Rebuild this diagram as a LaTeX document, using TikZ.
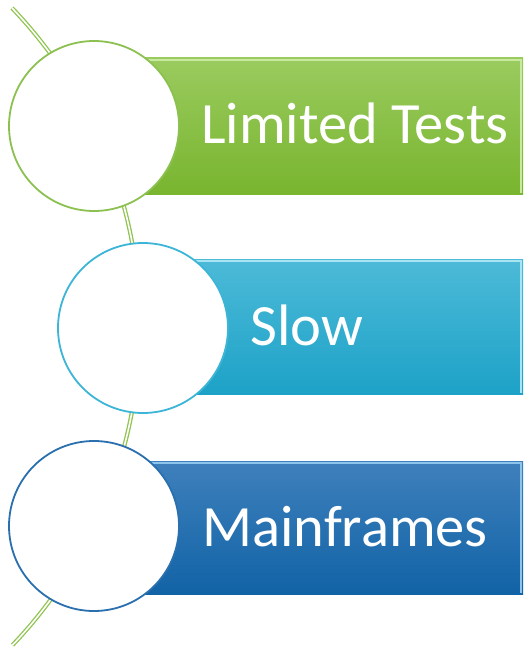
\documentclass[tikz,border=0pt]{standalone}
\usepackage{fontspec}
\setmainfont{Carlito}
\definecolor{gA}{HTML}{8CC152}
\definecolor{gTop}{HTML}{9ACB5F}
\definecolor{gBot}{HTML}{79B52F}
\definecolor{gHi}{HTML}{C9E8A0}
\definecolor{cA}{HTML}{3DB5D6}
\definecolor{cTop}{HTML}{4DBAD8}
\definecolor{cBot}{HTML}{1DA2C7}
\definecolor{cHi}{HTML}{A8E4F2}
\definecolor{bA}{HTML}{2A6FAE}
\definecolor{bTop}{HTML}{3F80BC}
\definecolor{bBot}{HTML}{1163A6}
\definecolor{bHi}{HTML}{8CC4EC}
\definecolor{lineG}{HTML}{8FC450}
\begin{document}
\begin{tikzpicture}[x=1pt,y=-1pt,
  ring/.style={circle,fill=white,draw,line width=1.8pt,minimum size=170pt,inner sep=0pt},
  label/.style={anchor=base west,text=white,font=\fontsize{58.5}{60}\selectfont,inner sep=0pt},
  spine/.style={draw=lineG,line width=1.3pt,double=white,double distance=1.6pt}]
\useasboundingbox (0,0) rectangle (524,647);
% spine arc
\coordinate (s0) at (12,8);
\draw[spine] (s0) arc[start angle=-43.7,end angle=43.6,radius=461.5];
% bars
\shade[top color=gTop,bottom color=gBot] (94,58) rectangle (523,194);
\draw[gHi,line width=1.2pt] (94,60) -- (521,60) -- (521,193);
\shade[top color=cTop,bottom color=cBot] (143,259) rectangle (523,394);
\draw[cHi,line width=1.2pt] (143,261) -- (521,261) -- (521,393);
\shade[top color=bTop,bottom color=bBot] (94,461) rectangle (523,594);
\draw[bHi,line width=1.2pt] (94,463) -- (521,463) -- (521,593);
\node[coordinate] (b1) at (523,126) {};
\node[coordinate] (b2) at (523,327) {};
\node[coordinate] (b3) at (523,528) {};
% circles
\node[ring,draw=gA] (c1) at (94,126) {};
\node[ring,draw=cA] (c2) at (143,328) {};
\node[ring,draw=bA] (c3) at (94,526) {};
% texts
\node[label] (t1) at (201,144) {Limited Tests};
\node[label] (t2) at (250,345) {Slow};
\node[label] (t3) at (202,546) {Mainframes};
\end{tikzpicture}
\end{document}
